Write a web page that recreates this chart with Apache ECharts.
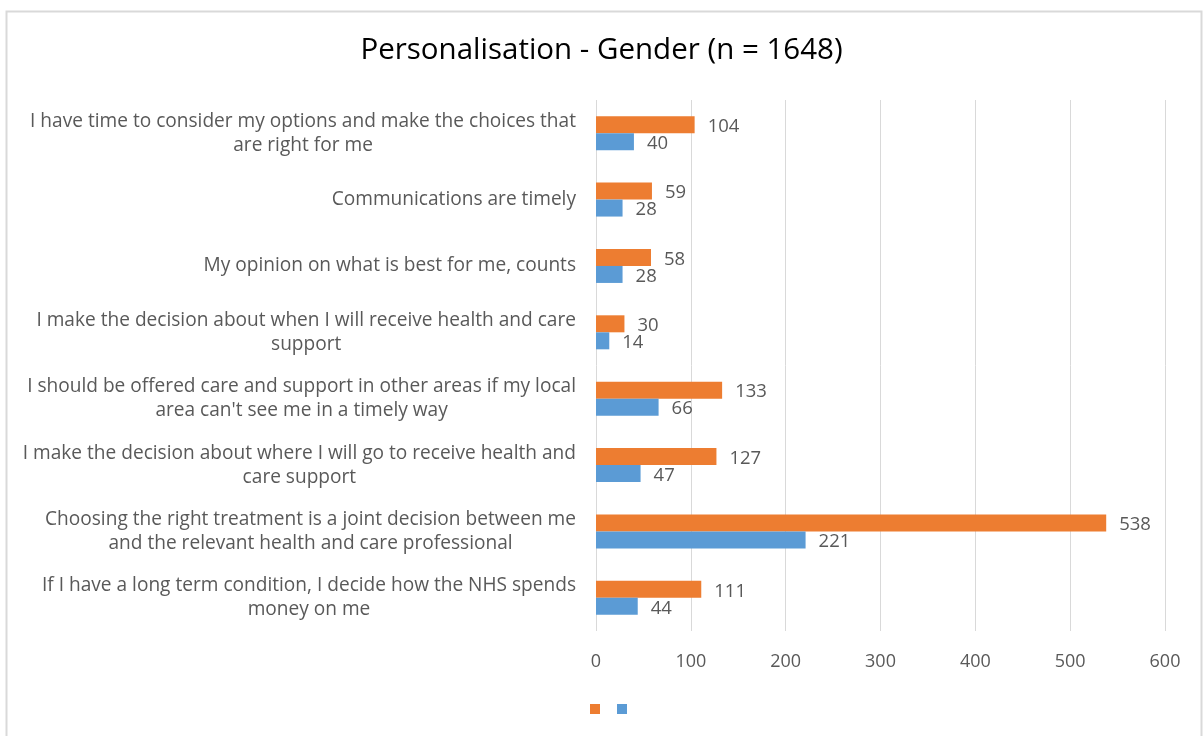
<!DOCTYPE html>
<html>
<head>
<meta charset="utf-8">
<script src="https://cdn.jsdelivr.net/npm/echarts@6/dist/echarts.min.js"></script>
<style>
html,body{margin:0;padding:0;background:#fff;}
#chart{width:1203px;height:736px;}
</style>
</head>
<body>
<div id="chart"></div>
<script>
// categories, bottom to top
var categories = [
	'If I have a long term condition, I decide how the NHS spends\nmoney on me',
	'Choosing the right treatment is a joint decision between me\nand the relevant health and care professional',
	'I make the decision about where I will go to receive health and\ncare support',
	'I should be offered care and support in other areas if my local\narea can\'t see me in a timely way',
	'I make the decision about when I will receive health and care\nsupport',
	'My opinion on what is best for me, counts',
	'Communications are timely',
	'I have time to consider my options and make the choices that\nare right for me'
];
var orangeValues = [111, 538, 127, 133, 30, 58, 59, 104];
var blueValues = [44, 221, 47, 66, 14, 28, 28, 40];
var xTicks = [0, 100, 200, 300, 400, 500, 600];

var font = '"Open Sans", sans-serif';
var grey = '#595959';

var chart = echarts.init(document.getElementById('chart'));
var option = {
	backgroundColor: '#fff',
	graphic: [{
		type: 'rect',
		shape: {x: 6.5, y: 11.5, width: 1195, height: 730},
		style: {fill: 'none', stroke: '#d9d9d9', lineWidth: 2}
	}],
	title: {
		text: 'Personalisation - Gender (n = 1648)',
		left: 'center',
		top: 31,
		textStyle: {fontFamily: font, fontSize: 29.5, fontWeight: 'normal', color: '#000'}
	},
	legend: {
		bottom: 17,
		left: 585,
		itemWidth: 10,
		itemHeight: 10,
		itemGap: 17,
		formatter: function(){ return ''; },
		icon: 'rect'
	},
	grid: {left: 596, right: 38, top: 100, bottom: 105},
	xAxis: {
		type: 'value',
		min: xTicks[0],
		max: xTicks[xTicks.length - 1],
		interval: 100,
		axisLine: {show: false},
		axisTick: {show: false},
		splitLine: {lineStyle: {color: '#d9d9d9'}},
		axisLabel: {color: grey, fontFamily: font, fontSize: 18, margin: 22}
	},
	yAxis: {
		type: 'category',
		data: categories,
		axisLine: {show: false},
		axisTick: {show: false},
		axisLabel: {
			margin: 20,
			align: 'right',
			formatter: function(v){
				// centre each line inside the label block
				return v.split('\n').map(function(l){ return '{c|' + l + '}'; }).join('\n');
			},
			rich: {
				c: {align: 'center', color: grey, fontFamily: font, fontSize: 19.1, lineHeight: 24}
			}
		}
	},
	series: [{
		name: 'orange',
		type: 'bar',
		data: orangeValues,
		barWidth: 17,
		barGap: '0%',
		itemStyle: {color: '#ED7D31'},
		label: {show: true, position: 'right', distance: 13, offset: [0, 2], color: grey, fontFamily: font, fontSize: 18.5}
	}, {
		name: 'blue',
		type: 'bar',
		data: blueValues,
		barWidth: 17,
		barGap: '0%',
		itemStyle: {color: '#5B9BD5'},
		label: {show: true, position: 'right', distance: 13, offset: [0, 2], color: grey, fontFamily: font, fontSize: 18.5}
	}]
};
chart.setOption(option);
</script>
</body>
</html>
